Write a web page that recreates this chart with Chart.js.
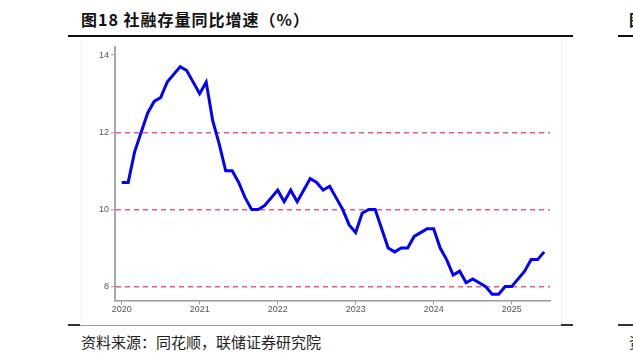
<!DOCTYPE html>
<html>
<head>
<meta charset="utf-8">
<script src="https://cdn.jsdelivr.net/npm/chart.js@4"></script>
<style>
  body{margin:0;background:#fff;width:633px;height:359px;overflow:hidden;position:relative;
       font-family:"Noto Sans CJK SC","Noto Sans",sans-serif;}
  #chart{position:absolute;left:0;top:0;}
  .title{position:absolute;left:81px;top:11px;font-size:16px;line-height:16px;font-weight:bold;color:#111;white-space:nowrap;letter-spacing:1px;}
  .title2{position:absolute;left:629px;top:11px;font-size:16px;line-height:16px;font-weight:bold;color:#111;}
  .rule{position:absolute;height:0;}
  .src{position:absolute;left:81px;top:334px;font-size:15px;line-height:16px;color:#222;white-space:nowrap;}
  .src2{position:absolute;left:629px;top:334px;font-size:15px;line-height:16px;color:#222;}
  .frame{position:absolute;left:81px;top:37px;width:479px;height:288px;border-left:1px solid #f2f2f2;border-right:1px solid #eeeeee;}
</style>
</head>
<body>
<div class="frame"></div>
<div class="title">图18 社融存量同比增速（%）</div>
<div class="title2">图</div>
<div class="rule" style="left:68px;top:35px;width:505px;border-top:2px solid #111;"></div>
<div class="rule" style="left:618px;top:35px;width:15px;border-top:2px solid #111;"></div>
<div class="rule" style="left:68px;top:325px;width:505px;border-top:1px solid #9a9a9a;"></div>
<div class="rule" style="left:68px;top:324px;width:12px;border-top:2px solid #333;"></div>
<div class="rule" style="left:561px;top:324px;width:12px;border-top:2px solid #333;"></div>
<div class="rule" style="left:618px;top:324px;width:15px;border-top:2px solid #333;"></div>
<div class="src">资料来源：同花顺，联储证券研究院</div>
<div class="src2">资</div>
<canvas id="chart" width="633" height="359"></canvas>
<script>
// 社融存量同比增速（%），2020-01 起逐月
const startYear = 2020;
const yearLabels = ['2020', '2021', '2022', '2023', '2024', '2025'];
const yTicks = [8, 10, 12, 14];
const growth = [
  10.7, 10.7, 11.5, 12.0, 12.5, 12.8, 12.9, 13.3, 13.5, 13.7, 13.6, 13.3,
  13.0, 13.3, 12.3, 11.7, 11.0, 11.0, 10.7, 10.3, 10.0, 10.0, 10.1, 10.3,
  10.5, 10.2, 10.5, 10.2, 10.5, 10.8, 10.7, 10.5, 10.6, 10.3, 10.0, 9.6,
  9.4, 9.9, 10.0, 10.0, 9.5, 9.0, 8.9, 9.0, 9.0, 9.3, 9.4, 9.5,
  9.5, 9.0, 8.7, 8.3, 8.4, 8.1, 8.2, 8.1, 8.0, 7.8, 7.8, 8.0,
  8.0, 8.2, 8.4, 8.7, 8.7, 8.9
];

const tickFont = {family: 'Arial, "Liberation Sans", sans-serif', size: 9};

new Chart(document.getElementById('chart'), {
  type: 'line',
  data: {
    datasets: [{
      data: growth.map((v, i) => ({x: i, y: v})),
      borderColor: '#0000ff',
      borderWidth: 3,
      pointRadius: 0,
      tension: 0,
      fill: false
    }]
  },
  options: {
    responsive: false,
    animation: false,
    layout: {padding: {top: 47, right: 83, left: 0, bottom: 0}},
    plugins: {legend: {display: false}, tooltip: {enabled: false}},
    scales: {
      x: {
        type: 'linear',
        min: -1.03,
        max: 65.9,
        afterFit: s => { s.height = 58.5; },
        afterBuildTicks: s => { s.ticks = yearLabels.map((_, k) => ({value: k * 12})); },
        ticks: {
          color: '#555',
          font: tickFont,
          padding: 0,
          maxRotation: 0,
          autoSkip: false,
          callback: v => String(startYear + v / 12)
        },
        grid: {drawOnChartArea: false, drawTicks: true, tickLength: 4, tickColor: '#999', tickWidth: 1},
        border: {color: '#9a9a9a', width: 1.5}
      },
      y: {
        min: 7.64,
        max: 14.21,
        afterFit: s => { s.width = 115; },
        afterBuildTicks: s => { s.ticks = yTicks.map(v => ({value: v})); },
        ticks: {color: '#555', font: tickFont, padding: 2},
        grid: {
          drawTicks: true,
          tickLength: 4,
          tickColor: '#999',
          tickWidth: 1,
          lineWidth: 1.5,
          color: c => (c.tick && c.tick.value === 14) ? 'rgba(0,0,0,0)' : '#e65c82'
        },
        border: {color: '#a8a8a8', width: 2, dash: [5, 4]}
      }
    }
  }
});
</script>
</body>
</html>
